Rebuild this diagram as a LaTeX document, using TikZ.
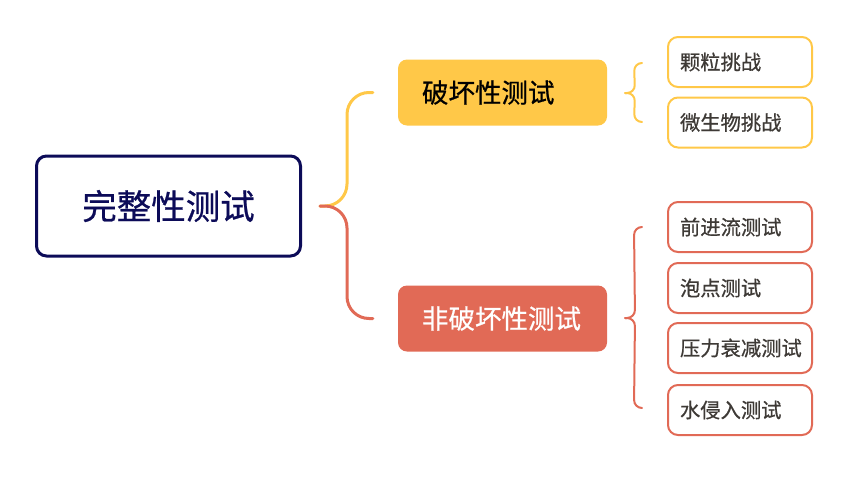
\documentclass[tikz,border=0pt]{standalone}
\usepackage{fontspec}
\setmainfont{Noto Sans CJK SC}[FakeBold=0.7]
\definecolor{navy}{HTML}{0C0B58}
\definecolor{myyellow}{HTML}{FFC848}
\definecolor{myred}{HTML}{E16A56}
\definecolor{leaftext}{HTML}{3E3A36}
\tikzset{
  rootbox/.style={draw=navy, line width=3pt, rounded corners=10pt, minimum width=264pt, minimum height=100pt, inner sep=0pt, text=navy, font=\fontsize{34.5}{38}\selectfont},
  midbox/.style={rounded corners=9pt, minimum width=209pt, minimum height=66pt, inner xsep=24pt, inner ysep=0pt, text width=161pt, align=left, font=\fontsize{26.5}{29}\selectfont},
  leafbox/.style={draw=#1, line width=2pt, rounded corners=10pt, minimum width=144pt, minimum height=50pt, inner xsep=12pt, inner ysep=0pt, text width=120pt, align=left, text=leaftext, font=\fontsize{20.3}{23}\selectfont},
  bigbrace/.style={line width=3pt, rounded corners=22pt, line cap=round},
  smallbrace/.style={line width=2pt, rounded corners=8pt, line cap=round}
}
\begin{document}
\begin{tikzpicture}[x=1pt,y=-1pt]
\useasboundingbox (0,0) rectangle (865,488);
\node[rootbox] (root) at (168.5,206) {完整性测试};
\node[midbox, fill=myyellow, text=black] (des) at (502.5,92.5) {破坏性测试};
\node[midbox, fill=myred, text=white] (nondes) at (502.5,318.5) {非破坏性测试};
\node[leafbox=myyellow] (l1) at (740,62) {颗粒挑战};
\node[leafbox=myyellow] (l2) at (740,122.5) {微生物挑战};
\node[leafbox=myred] (r1) at (740,227) {前进流测试};
\node[leafbox=myred] (r2) at (740,288) {泡点测试};
\node[leafbox=myred] (r3) at (740,348) {压力衰减测试};
\node[leafbox=myred] (r4) at (740,410) {水侵入测试};
% main brace
\coordinate (rb) at ([xshift=18pt]root.east);
\coordinate (rby) at ([xshift=-25pt]des.west);
\coordinate (rbr) at ([xshift=-25pt]nondes.west);
\draw[bigbrace, myyellow] (rb) -- ++(27,0) |- (rby);
\draw[bigbrace, myred] (rb) -- ++(27,0) |- (rbr);
% small braces
\coordinate (yt) at (625,93);
\coordinate (yu) at ([xshift=-25pt]l1.west |- 0,63);
\coordinate (yd) at ([xshift=-25pt]l2.west |- 0,122);
\draw[smallbrace, myyellow] (yu) -- ++(-8,0) -- (635,93) -- (yt);
\draw[smallbrace, myyellow] (yd) -- ++(-8,0) -- (635,93) -- (yt);
\coordinate (rt) at (625,318);
\coordinate (ru) at ([xshift=-25pt]r1.west |- 0,227);
\coordinate (rd) at ([xshift=-25pt]r4.west |- 0,408);
\draw[smallbrace, myred] (ru) -- ++(-8,0) -- (635,318) -- (rt);
\draw[smallbrace, myred] (rd) -- ++(-8,0) -- (635,318) -- (rt);
\end{tikzpicture}
\end{document}
